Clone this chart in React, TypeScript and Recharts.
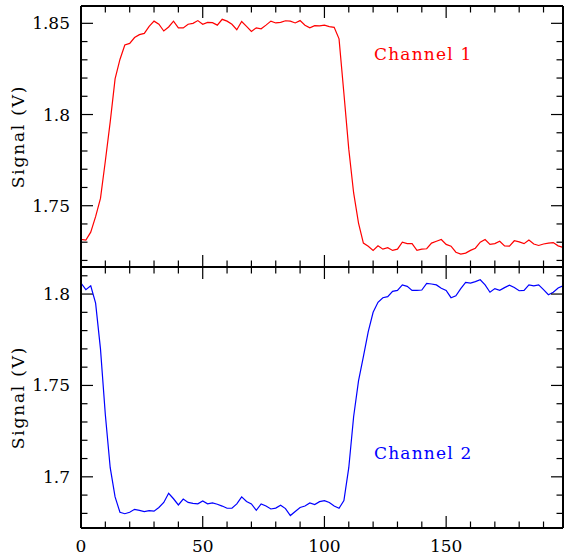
import React from "react";
import { LineChart, Line, XAxis, YAxis, ReferenceLine } from "recharts";

const xs = [
  0, 2, 4, 6, 8, 10, 12, 14, 16, 18, 20, 22, 24, 26, 28, 30, 32, 34, 36, 38,
  40, 42, 44, 46, 48, 50, 52, 54, 56, 58, 60, 62, 64, 66, 68, 70, 72, 74, 76, 78,
  80, 82, 84, 86, 88, 90, 92, 94, 96, 98, 100, 102, 104, 106, 108, 110, 112, 114, 116, 118,
  120, 122, 124, 126, 128, 130, 132, 134, 136, 138, 140, 142, 144, 146, 148, 150, 152, 154, 156, 158,
  160, 162, 164, 166, 168, 170, 172, 174, 176, 178, 180, 182, 184, 186, 188, 190, 192, 194, 196, 198,
];

const channel1 = [
  1.7315, 1.7312, 1.7355, 1.744, 1.754, 1.7745, 1.796, 1.8195, 1.8302, 1.8381,
  1.839, 1.8422, 1.8438, 1.8445, 1.8483, 1.8512, 1.8495, 1.8458, 1.848, 1.8512,
  1.8475, 1.8475, 1.8495, 1.85, 1.8515, 1.8495, 1.8505, 1.8504, 1.849, 1.8522,
  1.8512, 1.8495, 1.8465, 1.851, 1.8483, 1.8455, 1.8475, 1.847, 1.849, 1.8512,
  1.8502, 1.8505, 1.8514, 1.8512, 1.8502, 1.8515, 1.849, 1.8475, 1.8487, 1.8486,
  1.849, 1.8482, 1.8478, 1.8415, 1.8115, 1.781, 1.757, 1.7405, 1.7295, 1.7278,
  1.7255, 1.728, 1.7262, 1.727, 1.7255, 1.7262, 1.73, 1.7292, 1.7292, 1.7255,
  1.7262, 1.7264, 1.7295, 1.7305, 1.7315, 1.7288, 1.7278, 1.7245, 1.7235, 1.724,
  1.7255, 1.7267, 1.73, 1.7315, 1.7288, 1.7292, 1.7305, 1.728, 1.7278, 1.7308,
  1.7302, 1.7292, 1.7312, 1.729, 1.7282, 1.729, 1.7295, 1.7298, 1.728, 1.7272,
];

const channel2 = [
  1.806, 1.8024, 1.8045, 1.795, 1.77, 1.734, 1.705, 1.689, 1.6806, 1.6798,
  1.6806, 1.6822, 1.6816, 1.681, 1.6815, 1.6812, 1.6832, 1.686, 1.691, 1.688,
  1.6846, 1.6878, 1.686, 1.6855, 1.6852, 1.6868, 1.6852, 1.6857, 1.685, 1.684,
  1.6828, 1.6828, 1.6852, 1.689, 1.6865, 1.6852, 1.6817, 1.6852, 1.684, 1.6824,
  1.6829, 1.6845, 1.6826, 1.6788, 1.681, 1.6832, 1.684, 1.6857, 1.6848, 1.6864,
  1.687, 1.686, 1.684, 1.6828, 1.687, 1.705, 1.733, 1.7525, 1.7658, 1.7795,
  1.79, 1.7955, 1.798, 1.7986, 1.8015, 1.802, 1.805, 1.8042, 1.802, 1.802,
  1.8022, 1.8058, 1.8055, 1.805, 1.8032, 1.802, 1.798, 1.799, 1.803, 1.8064,
  1.806, 1.8068, 1.8078, 1.805, 1.801, 1.803, 1.802, 1.8035, 1.8048, 1.8036,
  1.8018, 1.802, 1.805, 1.8045, 1.805, 1.8024, 1.7996, 1.801, 1.8033, 1.8045,
];

const xTicks = [0, 10, 20, 30, 40, 50, 60, 70, 80, 90, 100, 110, 120, 130, 140, 150, 160, 170, 180, 190];
const ch1Ticks = [1.72, 1.73, 1.74, 1.75, 1.76, 1.77, 1.78, 1.79, 1.8, 1.81, 1.82, 1.83, 1.84, 1.85];
const ch2Ticks = [1.68, 1.69, 1.7, 1.71, 1.72, 1.73, 1.74, 1.75, 1.76, 1.77, 1.78, 1.79, 1.8, 1.81];
const ch1Domain = [1.7164, 1.8595];
const ch2Domain = [1.672, 1.8148];
const xDomain = [0, 198];

const data = xs.map((x, i) => ({ x, ch1: channel1[i], ch2: channel2[i] }));

const MAJOR = 12;
const MINOR = 6.5;
const PLOT_W = 482;
const PLOT_H = 261;

const isMajorX = (v: number) => v % 50 === 0;
const isMajorY = (v: number) => Math.round(v * 100) % 5 === 0;
const fmtY = (v: number) => String(Number(v.toFixed(2)));

// top / right tick marks (these render fine as custom ticks)
const xMarks = (side: "top" | "bottom") => (p: any) => {
  const v = Number(p.payload.value);
  const len = (side === "bottom" ? -1 : 1) * (isMajorX(v) ? MAJOR : MINOR);
  return <path d={`M${Number(p.x)},${Number(p.y)}v${len}`} stroke="#000" strokeWidth={1.2} fill="none" />;
};

const yMarksRight = (p: any) => {
  const v = Number(p.payload.value);
  const len = isMajorY(v) ? MAJOR : MINOR;
  return <path d={`M${Number(p.x)},${Number(p.y)}h${-len}`} stroke="#000" strokeWidth={1.2} fill="none" />;
};

const xLabel = (p: any) => {
  const v = Number(p.payload.value);
  return (
    <text x={Number(p.x)} y={Number(p.y) + 24} textAnchor="middle" fontSize={17} fill="#000">
      {isMajorX(v) ? String(v) : ""}
    </text>
  );
};

const yLabel = (p: any) => {
  const v = Number(p.payload.value);
  return (
    <text x={Number(p.x) - 11} y={Number(p.y) + 6} textAnchor="end" fontSize={17} fill="#000">
      {isMajorY(v) ? fmtY(v) : ""}
    </text>
  );
};

const SignalLabel = (props: any) => {
  const vb = props.viewBox;
  const cx = vb.x + 17.5;
  const cy = vb.y + vb.height / 2;
  return (
    <text
      x={cx}
      y={cy}
      transform={`rotate(-90 ${cx} ${cy})`}
      textAnchor="middle"
      dominantBaseline="central"
      fontSize={17}
      letterSpacing={1.8}
      fill="#000"
    >
      Signal (V)
    </text>
  );
};

const axisLine = { stroke: "#000", strokeWidth: 2 };

type PanelProps = {
  dataKey: string;
  color: string;
  domain: number[];
  ticks: number[];
  height: number;
  margin: { top: number; right: number; bottom: number; left: number };
  bottomHeight: number;
  isLast: boolean;
};

function Panel({ dataKey, color, domain, ticks, height, margin, bottomHeight, isLast }: PanelProps) {
  const common = { type: "number" as const, allowDataOverflow: true, interval: 0, tickSize: 0, tickMargin: 0, tickLine: false };
  // tick lengths converted to data units, for the left / bottom marks
  const xPerPx = (xDomain[1] - xDomain[0]) / PLOT_W;
  const yPerPx = (domain[1] - domain[0]) / PLOT_H;
  return (
    <LineChart width={564} height={height} data={data} margin={margin}>
      <XAxis {...common} xAxisId="bottom" dataKey="x" domain={xDomain} ticks={xTicks} height={bottomHeight}
        axisLine={axisLine} tick={isLast ? xLabel : xMarks("bottom")} />
      <XAxis {...common} xAxisId="top" orientation="top" dataKey="x" domain={xDomain} ticks={xTicks} height={1}
        axisLine={axisLine} tick={xMarks("top")} />
      <YAxis {...common} yAxisId="left" domain={domain} ticks={ticks} width={81}
        axisLine={axisLine} tick={yLabel} label={<SignalLabel />} />
      <YAxis {...common} yAxisId="right" orientation="right" domain={domain} ticks={ticks} width={1}
        axisLine={axisLine} tick={yMarksRight} />
      {ticks.map((v) => (
        <ReferenceLine
          key={`ly${v}`}
          xAxisId="bottom"
          yAxisId="left"
          ifOverflow="visible"
          segment={[
            { x: xDomain[0], y: v },
            { x: xDomain[0] + (isMajorY(v) ? MAJOR : MINOR) * xPerPx, y: v },
          ]}
          stroke="#000"
          strokeWidth={1.2}
        />
      ))}
      {isLast &&
        xTicks.map((v) => (
          <ReferenceLine
            key={`bx${v}`}
            xAxisId="bottom"
            yAxisId="left"
            ifOverflow="visible"
            segment={[
              { x: v, y: domain[0] },
              { x: v, y: domain[0] + (isMajorX(v) ? MAJOR : MINOR) * yPerPx },
            ]}
            stroke="#000"
            strokeWidth={1.2}
          />
        ))}
      <Line xAxisId="bottom" yAxisId="left" type="linear" dataKey={dataKey} stroke={color}
        strokeWidth={1.2} dot={false} isAnimationActive={false} />
    </LineChart>
  );
}

export default function App() {
  return (
    <div
      style={{
        position: "absolute",
        left: 0,
        top: 0,
        width: 564,
        height: 558,
        background: "#fff",
        fontFamily: "'DejaVu Serif', serif",
      }}
    >
      <div style={{ position: "absolute", left: 0, top: 0 }}>
        <Panel
          dataKey="ch1"
          color="#ff0000"
          domain={ch1Domain}
          ticks={ch1Ticks}
          height={268}
          margin={{ top: 5, right: 0, bottom: 0, left: 0 }}
          bottomHeight={1}
          isLast={false}
        />
      </div>
      <div style={{ position: "absolute", left: 0, top: 266 }}>
        <Panel
          dataKey="ch2"
          color="#0000ff"
          domain={ch2Domain}
          ticks={ch2Ticks}
          height={292}
          margin={{ top: 0, right: 0, bottom: 0, left: 0 }}
          bottomHeight={30}
          isLast={true}
        />
      </div>
      <svg
        width={564}
        height={558}
        style={{ position: "absolute", left: 0, top: 0, pointerEvents: "none" }}
      >
        <text x={374} y={60} fontSize={17} letterSpacing={1.2} fill="#ff0000">
          Channel 1
        </text>
        <text x={374} y={459} fontSize={17} letterSpacing={1.2} fill="#0000ff">
          Channel 2
        </text>
      </svg>
    </div>
  );
}
